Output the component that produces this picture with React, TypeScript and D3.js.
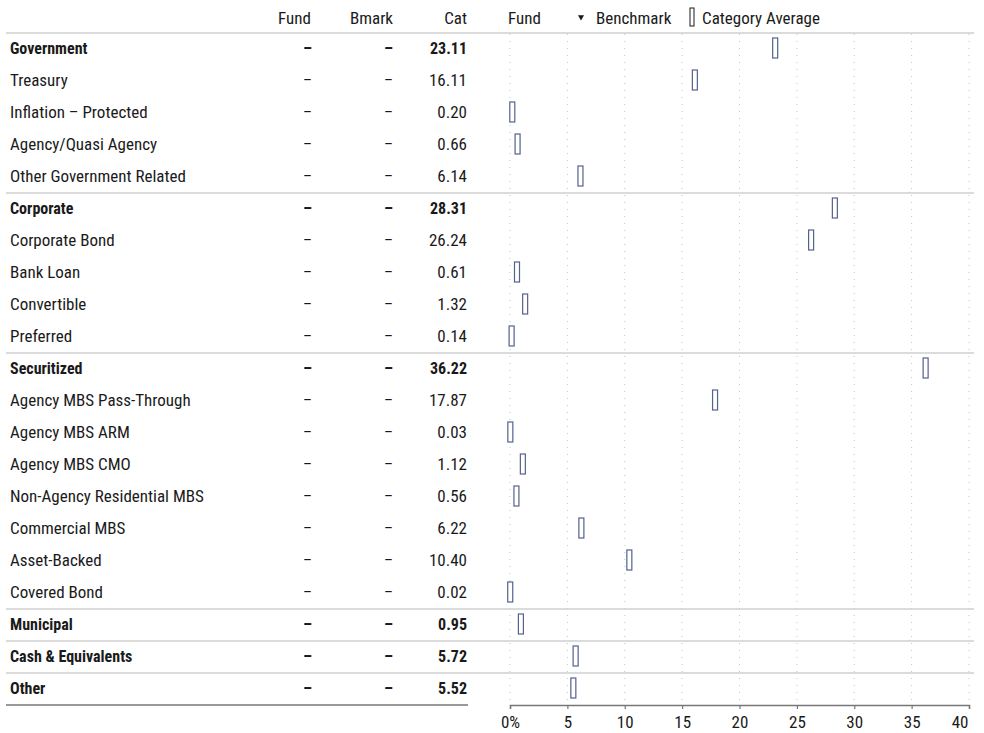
import * as d3 from 'd3'
import { useRef, useEffect } from 'react'

const rowLabels = [
  'Government', 'Treasury', 'Inflation – Protected', 'Agency/Quasi Agency', 'Other Government Related',
  'Corporate', 'Corporate Bond', 'Bank Loan', 'Convertible', 'Preferred',
  'Securitized', 'Agency MBS Pass-Through', 'Agency MBS ARM', 'Agency MBS CMO',
  'Non-Agency Residential MBS', 'Commercial MBS', 'Asset-Backed', 'Covered Bond',
  'Municipal', 'Cash & Equivalents', 'Other',
]
const groupRows = ['Government', 'Corporate', 'Securitized', 'Municipal', 'Cash & Equivalents', 'Other']
const fundValues: (number | null)[] = rowLabels.map(() => null)
const bmarkValues: (number | null)[] = rowLabels.map(() => null)
const catValues = [
  23.11, 16.11, 0.2, 0.66, 6.14,
  28.31, 26.24, 0.61, 1.32, 0.14,
  36.22, 17.87, 0.03, 1.12, 0.56, 6.22, 10.4, 0.02,
  0.95, 5.72, 5.52,
]
const xTicks = [0, 5, 10, 15, 20, 25, 30, 35, 40]

const FONT = "'Roboto Condensed', 'Liberation Sans Narrow', 'DejaVu Sans Condensed', sans-serif"
const TEXT = '#1a1a1a'
const MARK = '#53628f'

const width = 984
const height = 733

export default function App() {
  const svgRef = useRef<SVGSVGElement>(null)

  useEffect((): void => {
    const svg = d3.select(svgRef.current)
    svg.selectAll('*').remove()

    const x = d3.scaleLinear().domain([0, 40]).range([510, 969])
    const y = d3.scaleBand<number>()
      .domain(rowLabels.map((_, i) => i))
      .range([32, 704])
    const mid = (i: number) => y(i)! + y.bandwidth() / 2
    const isGroup = (i: number) => groupRows.includes(rowLabels[i])

    const g = svg.append('g').attr('font-family', FONT).attr('fill', TEXT)

    // header
    const head = g.append('g').attr('font-size', 17)
    head.append('text').attr('x', 311).attr('y', 24).attr('text-anchor', 'end').text('Fund')
    head.append('text').attr('x', 393).attr('y', 24).attr('text-anchor', 'end').text('Bmark')
    head.append('text').attr('x', 467).attr('y', 24).attr('text-anchor', 'end').text('Cat')
    head.append('text').attr('x', 508).attr('y', 24).text('Fund')
    head.append('path')
      .attr('d', d3.symbol(d3.symbolTriangle, 16)())
      .attr('transform', `translate(581,17) rotate(180)`)
      .attr('fill', TEXT)
    head.append('text').attr('x', 596).attr('y', 24).text('Benchmark')
    head.append('rect').attr('x', 690).attr('y', 8).attr('width', 4).attr('height', 18)
      .attr('fill', 'white').attr('stroke', TEXT).attr('stroke-width', 1)
    head.append('text').attr('x', 702).attr('y', 24).text('Category Average')

    // gridlines
    g.append('g').selectAll('line').data(xTicks).join('line')
      .attr('x1', d => x(d)).attr('x2', d => x(d))
      .attr('y1', 34).attr('y2', 704)
      .attr('stroke', '#c4c4c4').attr('stroke-width', 1).attr('stroke-dasharray', '1,6')

    // header rule and group separators
    g.append('line').attr('x1', 6).attr('x2', 974).attr('y1', 33).attr('y2', 33)
      .attr('stroke', '#cfcfcf').attr('stroke-width', 1.5)
    const seps = rowLabels.map((_, i) => i).filter(i => i > 0 && isGroup(i))
    g.append('g').selectAll('line').data(seps).join('line')
      .attr('x1', 6).attr('x2', 974)
      .attr('y1', i => y(i)! + 1).attr('y2', i => y(i)! + 1)
      .attr('stroke', '#cfcfcf').attr('stroke-width', 1.5)

    // table rows
    const rows = g.append('g').selectAll('g').data(rowLabels.map((_, i) => i)).join('g')
      .attr('transform', i => `translate(0,${mid(i) + 6})`)
      .attr('font-size', i => (isGroup(i) ? 16 : 17))
      .attr('font-weight', i => (isGroup(i) ? 'bold' : 'normal'))
    rows.append('text').attr('x', 10).text(i => rowLabels[i])

    const cell = (colX: number, vals: (number | null)[]) => {
      const t = rows.append('text').attr('x', colX).attr('text-anchor', 'end')
        .text(i => (vals[i] == null ? '–' : vals[i]!.toFixed(2)))
      t.filter(i => vals[i] == null)
        .attr('x', colX - 9).attr('text-anchor', 'start')
        .attr('textLength', 9).attr('lengthAdjust', 'spacingAndGlyphs')
    }
    cell(312, fundValues)
    cell(393, bmarkValues)
    rows.append('text').attr('x', 467).attr('text-anchor', 'end')
      .text(i => catValues[i].toFixed(2))

    // category average markers
    g.append('g').selectAll('rect').data(catValues).join('rect')
      .attr('x', d => x(d) - 2.5)
      .attr('y', (_, i) => mid(i) - 10)
      .attr('width', 5).attr('height', 20)
      .attr('fill', 'white').attr('stroke', MARK).attr('stroke-width', 1.2)

    // bottom rule under table
    g.append('line').attr('x1', 6).attr('x2', 468).attr('y1', 705).attr('y2', 705)
      .attr('stroke', '#777').attr('stroke-width', 1.5)

    // x axis
    const axis = g.append('g').attr('transform', 'translate(0,705)')
      .call(d3.axisBottom(x).tickValues(xTicks).tickSize(4).tickFormat(d => (d === 0 ? '0%' : String(d))))
    axis.select('.domain').attr('stroke', '#777').attr('stroke-width', 1.5)
    axis.selectAll('.tick line').attr('stroke', '#777').attr('stroke-width', 1.2)
    axis.selectAll('.tick text').attr('font-family', FONT).attr('font-size', 17)
      .attr('fill', TEXT).attr('dy', null).attr('y', 23)
    axis.selectAll<SVGTextElement, number>('.tick text')
      .filter(d => d === 40).attr('text-anchor', 'end').attr('dx', -1).attr('x', 0)
  }, [])

  return (
    <svg ref={svgRef} width={width} height={height}
      style={{ position: 'absolute', left: 0, top: 0, background: 'white' }} />
  )
}
